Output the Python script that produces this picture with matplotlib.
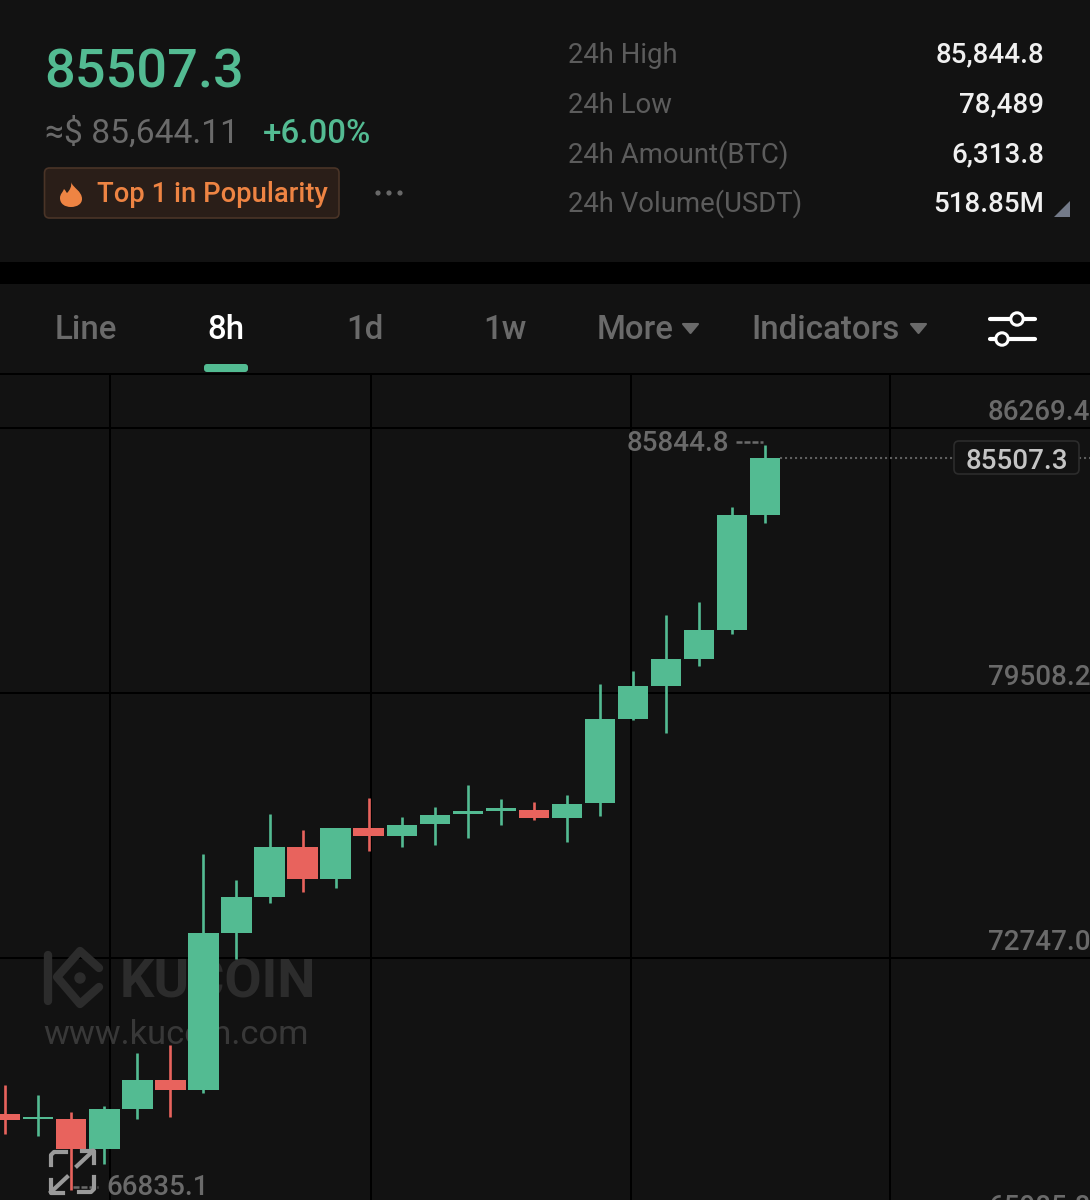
import matplotlib
matplotlib.use("Agg")
import matplotlib.pyplot as plt
from matplotlib.patches import Rectangle, FancyBboxPatch, Circle, Polygon, PathPatch
from matplotlib.path import Path
import numpy as np

# Candle data, oldest first
opens = [68775, 68631, 68647, 67866, 68902, 69634, 69379, 73377, 74303, 75579, 74770, 76056,
         75867, 76166, 76413, 76505, 76531, 76319, 76694, 78837, 79687, 80368, 81116, 84050]
closes = [68621, 68683, 67866, 68887, 69634, 69379, 73377, 74303, 75579, 74770, 76056, 75867,
          76148, 76403, 76505, 76582, 76311, 76684, 78837, 79687, 80368, 81116, 84050, 85507.3]
highs = [69499, 69260, 68810, 68971, 70315, 70535, 75408, 74745, 76413, 76013, 76064, 76829,
         76352, 76592, 77168, 76804, 76727, 76913, 79738, 80077, 81498, 81837, 84254, 85844.8]
lows = [68249, 68213, 66835.1, 67483, 68631, 68698, 69295, 72714, 74142, 74431, 74533, 75485,
        75587, 75622, 75817, 76140, 76260, 75714, 76370, 78820, 78489, 80205, 81013, 83846]

price_ticks = [86269.4, 79508.2, 72747.0, 65985.8]
price_labels = ["86269.4", "79508.2", "72747.0", "65985.8"]
time_grid = [3.185, 11.06, 18.93, 26.8]

last_price = "85507.3"
fiat_price = "≈$ 85,644.11"
change_pct = "+6.00%"
badge_text = "Top 1 in Popularity"
stat_names = ["24h High", "24h Low", "24h Amount(BTC)", "24h Volume(USDT)"]
stat_values = ["85,844.8", "78,489", "6,313.8", "518.85M"]

BG = "#121212"
GREEN = "#53BB92"
RED = "#E8635D"
GREY = "#6a6a6a"
ORANGE = "#EE8443"

plt.rcParams["font.family"] = ["Roboto", "DejaVu Sans"]

fig = plt.figure(figsize=(10.9, 12), dpi=100, facecolor=BG)

# Overlay axes in image pixels for the app chrome
chrome = fig.add_axes([0, 0, 1, 1], zorder=3)
chrome.set_xlim(0, 1090)
chrome.set_ylim(1200, 0)
chrome.axis("off")

# Price chart
ax = fig.add_axes([0, 0, 1, 826 / 1200], zorder=2)
ax.set_facecolor(BG)
for s in ax.spines.values():
    s.set_visible(False)
ax.set_xticks(time_grid)
ax.set_yticks(price_ticks)
# limits go after the ticks, set_yticks would widen them to fit 65985.8
ax.set_xlim(-0.16, 32.84)
ax.set_ylim(66572.6, 87647)
ax.tick_params(length=0, labelbottom=False, labelleft=False)
ax.grid(True, color="#000000", lw=1.4, zorder=1)
ax.set_axisbelow(True)

x = np.arange(len(opens))
opens = np.array(opens)
closes = np.array(closes)
colors = [GREEN if c >= o else RED for o, c in zip(opens, closes)]
ax.vlines(x, lows, highs, colors=colors, lw=1.9, zorder=3)
ax.bar(x, np.abs(closes - opens), bottom=np.minimum(opens, closes), width=0.917,
       color=colors, linewidth=0, zorder=4)

# Axis labels sit just above each grid line and run off the right edge
for tick, label in zip(price_ticks, price_labels):
    ax.annotate(label, xy=(988 / 1090, tick), xycoords=("axes fraction", "data"),
                xytext=(0, 5.8), textcoords="offset points", color=GREY,
                fontsize=20, fontweight="medium", va="baseline", annotation_clip=False)

# High / low markers
hi = int(np.argmax(highs))
lo = int(np.argmin(lows))
ax.annotate(f"{highs[hi]:.1f}", xy=(hi, highs[hi]), xytext=(-25.6, -4.6), textcoords="offset points",
            color=GREY, fontsize=20, fontweight="medium", ha="right", va="baseline")
ax.plot([hi - 0.87, hi - 0.05], [highs[hi] + 66, highs[hi] + 66], color=GREY, lw=1.8, ls=(0, (2.4, 0.8)), zorder=2)
ax.annotate(f"{lows[lo]:.1f}", xy=(lo, lows[lo]), xytext=(25, -3.8), textcoords="offset points",
            color=GREY, fontsize=20, fontweight="medium", va="baseline")
ax.plot([lo + 0.05, lo + 0.8], [lows[lo] + 76, lows[lo] + 76], color=GREY, lw=1.8, ls=(0, (2.4, 0.8)), zorder=2)

# Last price line and tag
ax.plot([23.45, 28.72], [closes[-1], closes[-1]], color="#5e5e5e", lw=1.5, ls=(0, (1, 1.4)), zorder=2)
ax.plot([32.5, 33], [closes[-1], closes[-1]], color="#5e5e5e", lw=1.5, ls=(0, (1, 1.4)), zorder=2)
chrome.add_patch(FancyBboxPatch((957, 444), 119, 27, boxstyle="round,pad=3,rounding_size=5",
                                fc=BG, ec="#2c2c2c", lw=1.2))
chrome.text(965.5, 469, last_price, color="#c4c4c4", fontsize=20, fontweight="medium", va="baseline")

# Watermark, under the candles
wm = chrome.transData
ax.plot([48, 48], [955, 1001], transform=wm, color="#2c2c2c", lw=6, solid_capstyle="round", zorder=1.5)
ax.plot([99, 80, 57, 80, 99], [968, 951, 977, 1004, 987], transform=wm, color="#2c2c2c", lw=6,
        solid_capstyle="round", solid_joinstyle="round", zorder=1.5)
ax.add_patch(Circle((80, 978), 5, transform=wm, color="#2c2c2c", zorder=1.5))
ax.text(120, 997, "KUCOIN", transform=wm, color="#2c2c2c", fontsize=39, fontweight="bold",
        va="baseline", zorder=1.5)
ax.text(43.5, 1044, "www.kucoin.com", transform=wm, color="#383838", fontsize=24.8, va="baseline", zorder=1.5)

# Header block
chrome.text(44.5, 87, last_price, color=GREEN, fontsize=39, fontweight="medium", va="baseline")
chrome.text(45, 143, fiat_price, color=GREY, fontsize=24.2, va="baseline")
chrome.text(263, 143, change_pct, color=GREEN, fontsize=23.8, fontweight="medium", va="baseline")

chrome.add_patch(FancyBboxPatch((47.5, 171), 288.5, 44, boxstyle="round,pad=3,rounding_size=5",
                                fc="#2a1e18", ec="#4a3427", lw=1.2))
flame = Path([(71, 182), (73, 188), (82, 191), (82, 199), (82, 204), (77, 207), (71, 207),
              (65, 207), (60, 204), (60, 198), (60, 194), (63, 192), (64, 189),
              (66, 191), (66, 192), (67, 193), (70, 190), (72, 186), (71, 182), (71, 182)],
             [Path.MOVETO] + [Path.CURVE4] * 18 + [Path.CLOSEPOLY])
chrome.add_patch(PathPatch(flame, fc=ORANGE, ec="none"))
chrome.text(97, 202, badge_text, color=ORANGE, fontsize=19.7, fontweight="medium", va="baseline")
for dot_x in (378, 389, 400):
    chrome.add_patch(Circle((dot_x, 193), 2.6, fc="#686868", ec="none"))

for name, value, base in zip(stat_names, stat_values, [63, 113, 163, 212]):
    chrome.text(568, base, name, color="#5c5c5c", fontsize=19.8, va="baseline")
    chrome.text(1044.5, base - 0.5, value, color="#f0f0f0", fontsize=20, fontweight="medium", ha="right", va="baseline")
chrome.add_patch(Polygon([(1054, 217), (1070, 217), (1070, 201)], fc="#737a88", ec="none"))

# Black divider and tab bar
chrome.add_patch(Rectangle((0, 262), 1090, 22, fc="#000000", ec="none"))
chrome.plot([0, 1090], [373.5, 373.5], color="#000000", lw=1.4)
tabs = [("Line", 55, GREY), ("8h", 207.5, "#ffffff"), ("1d", 346.5, GREY), ("1w", 483.5, GREY),
        ("More", 597, GREY), ("Indicators", 751.5, GREY)]
for label, tab_x, color in tabs:
    chrome.text(tab_x, 339, label, color=color, fontsize=23.8, fontweight="medium", va="baseline")
chrome.add_patch(FancyBboxPatch((206, 366), 40, 4, boxstyle="round,pad=2,rounding_size=3", fc=GREEN, ec="none"))
for tri_x in (683, 911):
    chrome.add_patch(Polygon([(tri_x, 324), (tri_x + 15, 324), (tri_x + 7.5, 333)], fc=GREY, ec=GREY,
                             lw=1.5, joinstyle="round"))

# Settings icon
chrome.plot([990, 1035], [319, 319], color="#ffffff", lw=3, solid_capstyle="round")
chrome.plot([990, 1035], [339, 339], color="#ffffff", lw=3, solid_capstyle="round")
chrome.add_patch(Circle((1017, 319), 6.2, fc=BG, ec="#ffffff", lw=2.2, zorder=4))
chrome.add_patch(Circle((1002, 339), 6.2, fc=BG, ec="#ffffff", lw=2.2, zorder=4))

# Expand icon at the bottom left
ICON = "#9a9a9a"
chrome.plot([51, 51, 54, 66], [1165, 1155, 1152, 1152], color=ICON, lw=3)
chrome.plot([79, 91, 94, 94], [1192, 1192, 1189, 1177], color=ICON, lw=3)
chrome.plot([77, 93], [1166, 1151], color=ICON, lw=3)
chrome.plot([82, 94, 94], [1151, 1151, 1163], color=ICON, lw=3)
chrome.plot([67, 51], [1177, 1192], color=ICON, lw=3)
chrome.plot([51, 51, 63], [1180, 1193, 1193], color=ICON, lw=3)

fig.savefig("out.png", dpi=100, facecolor=BG)
